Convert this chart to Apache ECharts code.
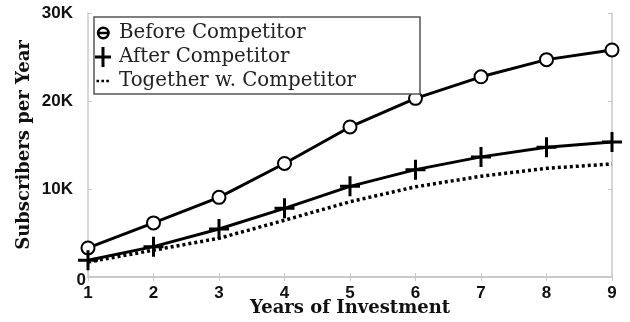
<!DOCTYPE html>
<html>
<head>
<meta charset="utf-8">
<script src="https://cdn.jsdelivr.net/npm/echarts@6/dist/echarts.min.js"></script>
<style>
  html, body { margin: 0; padding: 0; background: #fff; }
  #chart { width: 630px; height: 322px; }
</style>
</head>
<body>
<div id="chart"></div>
<script>
  // years on the x axis
  const years = [1, 2, 3, 4, 5, 6, 7, 8, 9]
  // subscribers per year
  const beforeCompetitor = [3300, 6150, 9050, 12900, 17050, 20300, 22750, 24700, 25800]
  const afterCompetitor = [1900, 3450, 5450, 7800, 10300, 12200, 13650, 14750, 15350]
  const togetherCompetitor = [1700, 3050, 4400, 6450, 8550, 10250, 11450, 12350, 12850]
  const seriesNames = ['Before Competitor', 'After Competitor', 'Together w. Competitor']
  const yTicks = [0, 10000, 20000, 30000]
  const yTickLabels = ['0', '10K', '20K', '30K']

  const frameColor = '#c8c8c8'
  const serif = 'DejaVu Serif'
  const sans = 'Liberation Sans'
  const plusPath = 'path://M8.5,0 H11.5 V8.5 H20 V11.5 H11.5 V20 H8.5 V11.5 H0 V8.5 H8.5 Z'

  // legend icons, all in a 16x20 box (tiny corner triangles keep the box size)
  const corners = 'M0,0 L0.01,0 L0,0.01 Z M16,20 L15.99,20 L16,19.99 Z '
  const iconBefore = 'path://' + corners +
    'M1.8,10 A6.5,6.5 0 1,1 14.8,10 A6.5,6.5 0 1,1 1.8,10 Z ' +
    'M4.4,10 A3.9,3.9 0 1,0 12.2,10 A3.9,3.9 0 1,0 4.4,10 Z ' +
    'M4.4,8.8 H12.2 V11.2 H4.4 Z'
  const iconAfter = 'path://M6.5,0 H9.5 V8.5 H16 V11.5 H9.5 V20 H6.5 V11.5 H0 V8.5 H6.5 Z'
  const iconTogether = 'path://' + corners +
    'M1.5,8.7 H4.1 V11.3 H1.5 Z M6.4,8.7 H9 V11.3 H6.4 Z M11.3,8.7 H13.9 V11.3 H11.3 Z'

  const pairs = arr => years.map((y, i) => [y, arr[i]])

  const frameAxis = {
    axisLine: { show: true, lineStyle: { color: frameColor, width: 1.5 } },
    axisTick: { show: true, inside: true, length: 4, lineStyle: { color: frameColor } },
    axisLabel: { show: false },
    splitLine: { show: false }
  }

  const myChart = echarts.init(document.getElementById('chart'), null, { renderer: 'canvas' })
  myChart.setOption({
    animation: false,
    grid: { left: 88, right: 18, top: 13, bottom: 45, containLabel: false, outerBoundsMode: 'none' },
    legend: {
      orient: 'vertical',
      left: 94,
      top: 17,
      padding: [6, 64, 3, 1],
      itemGap: 4,
      itemWidth: 16,
      itemHeight: 20,
      borderColor: '#555',
      borderWidth: 1.5,
      backgroundColor: '#fff',
      textStyle: { fontFamily: serif, fontSize: 19.8, color: '#222', padding: [0, 0, 0, 3] },
      data: [
        { name: seriesNames[0], icon: iconBefore, itemStyle: { color: '#000', borderWidth: 0 } },
        { name: seriesNames[1], icon: iconAfter, itemStyle: { color: '#000', borderWidth: 0 } },
        { name: seriesNames[2], icon: iconTogether, itemStyle: { color: '#000', borderWidth: 0 } }
      ]
    },
    xAxis: [{
      type: 'value',
      min: years[0],
      max: years[years.length - 1],
      interval: 1,
      name: 'Years of Investment',
      nameLocation: 'middle',
      nameGap: 22,
      nameMoveOverlap: false,
      nameTextStyle: { fontFamily: serif, fontWeight: 'bold', fontSize: 18, color: '#111' },
      axisLine: { lineStyle: { color: frameColor, width: 1.5 } },
      axisTick: { inside: true, length: 4, lineStyle: { color: frameColor } },
      axisLabel: { margin: 8, fontFamily: sans, fontWeight: 'bold', fontSize: 17, color: '#111' },
      splitLine: { show: false }
    }, Object.assign({ type: 'value', position: 'top', min: years[0], max: years[years.length - 1], interval: 1 }, frameAxis)],
    yAxis: [{
      type: 'value',
      min: yTicks[0],
      max: yTicks[yTicks.length - 1],
      interval: 10000,
      name: 'Subscribers per Year',
      nameLocation: 'middle',
      nameGap: 55,
      nameMoveOverlap: false,
      nameTextStyle: { fontFamily: serif, fontWeight: 'bold', fontSize: 18, color: '#111' },
      axisLine: { show: true, lineStyle: { color: frameColor, width: 1.5 } },
      axisTick: { show: true, inside: true, length: 4, lineStyle: { color: frameColor } },
      axisLabel: {
        margin: 2,
        formatter: v => {
          const lbl = yTickLabels[yTicks.indexOf(v)]
          return v === 0 ? '{z|' + lbl + '}' : '{n|' + lbl + '}'
        },
        rich: {
          n: { fontFamily: sans, fontWeight: 'bold', fontSize: 17, color: '#111', padding: [0, 13, 0, 0] },
          z: { fontFamily: sans, fontWeight: 'bold', fontSize: 17, color: '#111', padding: [7, 0, 0, 0] }
        }
      },
      splitLine: { show: false }
    }, Object.assign({ type: 'value', position: 'right', min: yTicks[0], max: yTicks[yTicks.length - 1], interval: 10000 }, frameAxis)],
    series: [{
      name: seriesNames[0],
      type: 'line',
      data: pairs(beforeCompetitor),
      symbol: 'emptyCircle',
      symbolSize: 13,
      lineStyle: { color: '#000', width: 3 },
      itemStyle: { color: '#000', borderColor: '#000', borderWidth: 2.5 },
      z: 3
    }, {
      name: seriesNames[1],
      type: 'line',
      data: pairs(afterCompetitor),
      symbol: plusPath,
      symbolSize: 20,
      lineStyle: { color: '#000', width: 3 },
      itemStyle: { color: '#000', borderWidth: 0 },
      z: 3
    }, {
      name: seriesNames[2],
      type: 'line',
      data: pairs(togetherCompetitor),
      symbol: 'none',
      lineStyle: { color: '#000', width: 3.5, type: [3, 3] },
      itemStyle: { color: '#000' },
      z: 2
    }]
  })
</script>
</body>
</html>
